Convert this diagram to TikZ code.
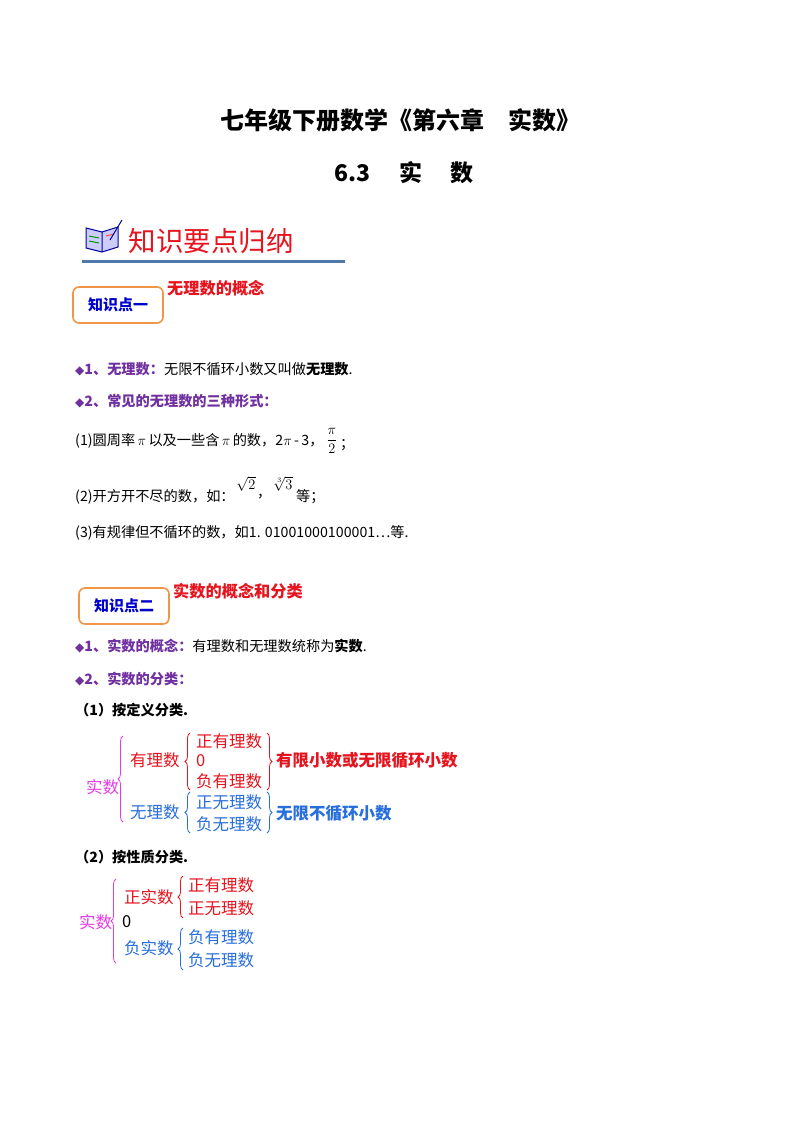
\documentclass[tikz,border=0pt]{standalone}
\usepackage{fontspec}
\setmainfont{Liberation Serif}
\newfontfamily\cjk{Noto Sans CJK SC}
\newfontfamily\djvf{DejaVu Sans}
\usetikzlibrary{decorations.pathreplacing}
\definecolor{kpurple}{RGB}{112,48,160}
\definecolor{kred}{RGB}{230,20,30}
\definecolor{kblue}{RGB}{40,110,220}
\definecolor{kmag}{RGB}{230,60,230}
\definecolor{korange}{RGB}{240,150,70}
\definecolor{kbar}{RGB}{80,120,170}
\begin{document}
\begin{tikzpicture}[x=1pt,y=-1pt,
  txt/.style={anchor=west,inner sep=0pt,font=\cjk\fontsize{14.2}{16}\selectfont},
  dg/.style={anchor=west,inner sep=0pt,font=\cjk\fontsize{16.5}{18}\selectfont},
  kbox/.style={draw=korange,line width=1.6pt,rounded corners=6pt,minimum width=90pt,minimum height=36pt,text=blue!80!black,font=\cjk\bfseries\fontsize{15}{17}\selectfont},
  brc/.style={decorate,decoration={brace,amplitude=5pt},line width=0.8pt},
  brcm/.style={decorate,decoration={brace,amplitude=5pt,mirror},line width=0.8pt}]
\useasboundingbox (0,0) rectangle (800,1132);
\fill[white] (0,0) rectangle (800,1132);
\node[font=\cjk\bfseries\fontsize{24}{26}\selectfont] (t1) at (400,120) {七年级下册数学《第六章\quad 实数》};
\node[font=\cjk\bfseries\fontsize{23}{26}\selectfont] (t2) at (404,173) {6.3\quad\ 实\quad\ 数};
% book icon
\fill[blue!20] (86,228) -- (102,232) -- (102,252) -- (86,248) -- cycle;
\fill[blue!20] (102,232) -- (118,227) -- (118,247) -- (102,252) -- cycle;
\draw[blue!60!black,line width=1pt] (86,228) -- (102,232) -- (118,227) -- (118,247) -- (102,252) -- (86,248) -- cycle (102,232) -- (102,252);
\draw[green!60!black,line width=1pt] (89,236) -- (99,238) (89,241) -- (99,243);
\draw[red!70,line width=1pt] (106,236) -- (114,234);
\draw[blue!60!black,line width=1pt] (110,240) -- (122,220);
\node[anchor=west,font=\cjk\fontsize{27.5}{30}\selectfont,text=kred] (hd) at (125,241) {知识要点归纳};
\draw[kbar,line width=3pt] (82,261) -- (345,261);
% box 1
\node[kbox] (k1) at (118,305) {知识点一};
\node[anchor=west,inner sep=0pt,text=kred,font=\cjk\bfseries\fontsize{16.2}{18}\selectfont] (k1l) at (167,288) {无理数的概念};
\node[txt] (l1) at (75,369) {\textcolor{kpurple}{\bfseries{\djvf\fontsize{12}{12}\selectfont ◆}1、无理数：}无限不循环小数又叫做\textbf{无理数}.};
\node[txt] (l2) at (75,401) {\textcolor{kpurple}{\bfseries{\djvf\fontsize{12}{12}\selectfont ◆}2、常见的无理数的三种形式：}};
\node[txt] (l3) at (75,441) {(1)圆周率\,{\rmfamily$\pi$}\,以及一些含\,{\rmfamily$\pi$}\,的数，2{\rmfamily$\pi$}\,-\,3，};
\node[inner sep=0pt,font=\fontsize{14}{15}\selectfont] (fr) at (332,441) {$\displaystyle\frac{\pi}{2}$};
\node[txt] (l3b) at (340,445) {；};
\node[txt] (l4) at (75,497) {(2)开方开不尽的数，如：};
\node[inner sep=0pt,font=\fontsize{15}{16}\selectfont] (r2) at (246,484) {$\sqrt{2}$};
\node[txt] (cm) at (257,497) {，};
\node[inner sep=0pt,font=\fontsize{15}{16}\selectfont] (r3) at (283,484) {$\sqrt[3]{3}$};
\node[txt] (l4b) at (296,497) {等；};
\node[txt] (l5) at (75,533) {(3)有规律但不循环的数，如1. 01001000100001…等.};
% box 2
\node[kbox] (k2) at (124,606) {知识点二};
\node[anchor=west,inner sep=0pt,text=kred,font=\cjk\bfseries\fontsize{16.2}{18}\selectfont] (k2l) at (173,591) {实数的概念和分类};
\node[txt] (m1) at (75,646) {\textcolor{kpurple}{\bfseries{\djvf\fontsize{12}{12}\selectfont ◆}1、实数的概念：}有理数和无理数统称为\textbf{实数}.};
\node[txt] (m2) at (75,679) {\textcolor{kpurple}{\bfseries{\djvf\fontsize{12}{12}\selectfont ◆}2、实数的分类：}};
\node[txt,font=\cjk\bfseries\fontsize{14.2}{16}\selectfont] (m3) at (75,710) {（1）按定义分类.};
% diagram 1
\node[dg,text=kmag] (a0) at (86,787) {实数};
\draw[brcm,kmag] (123,736) -- (123,822);
\node[dg,text=kred] (a1) at (130,760) {有理数};
\node[dg,text=kblue] (a2) at (130,812) {无理数};
\draw[brcm,kred] (190,733) -- (190,790);
\node[dg,text=kred] (a11) at (196,741) {正有理数};
\node[dg,text=kred] (a12) at (196,761) {0};
\node[dg,text=kred] (a13) at (196,781) {负有理数};
\draw[brc,kred] (267,733) -- (267,790);
\node[dg,text=kred,font=\cjk\bfseries\fontsize{16.5}{18}\selectfont] (a1r) at (276,760) {有限小数或无限循环小数};
\draw[brcm,kblue] (190,792) -- (190,833);
\node[dg,text=kblue] (a21) at (196,802) {正无理数};
\node[dg,text=kblue] (a22) at (196,824) {负无理数};
\draw[brc,kblue] (267,792) -- (267,833);
\node[dg,text=kblue,font=\cjk\bfseries\fontsize{16.5}{18}\selectfont] (a2r) at (276,813) {无限不循环小数};
\node[txt,font=\cjk\bfseries\fontsize{14.2}{16}\selectfont] (m4) at (75,857) {（2）按性质分类.};
% diagram 2
\node[dg,text=kmag] (b0) at (79,922) {实数};
\draw[brcm,kmag] (116,879) -- (116,963);
\node[dg,text=kred] (b1) at (124,897) {正实数};
\node[dg] (b2) at (122,922) {0};
\node[dg,text=kblue] (b3) at (124,948) {负实数};
\draw[brcm,kred] (183,876) -- (183,918);
\node[dg,text=kred] (b11) at (188,885) {正有理数};
\node[dg,text=kred] (b12) at (188,908) {正无理数};
\draw[brcm,kblue] (183,928) -- (183,970);
\node[dg,text=kblue] (b31) at (188,937) {负有理数};
\node[dg,text=kblue] (b32) at (188,960) {负无理数};
\end{tikzpicture}
\end{document}
